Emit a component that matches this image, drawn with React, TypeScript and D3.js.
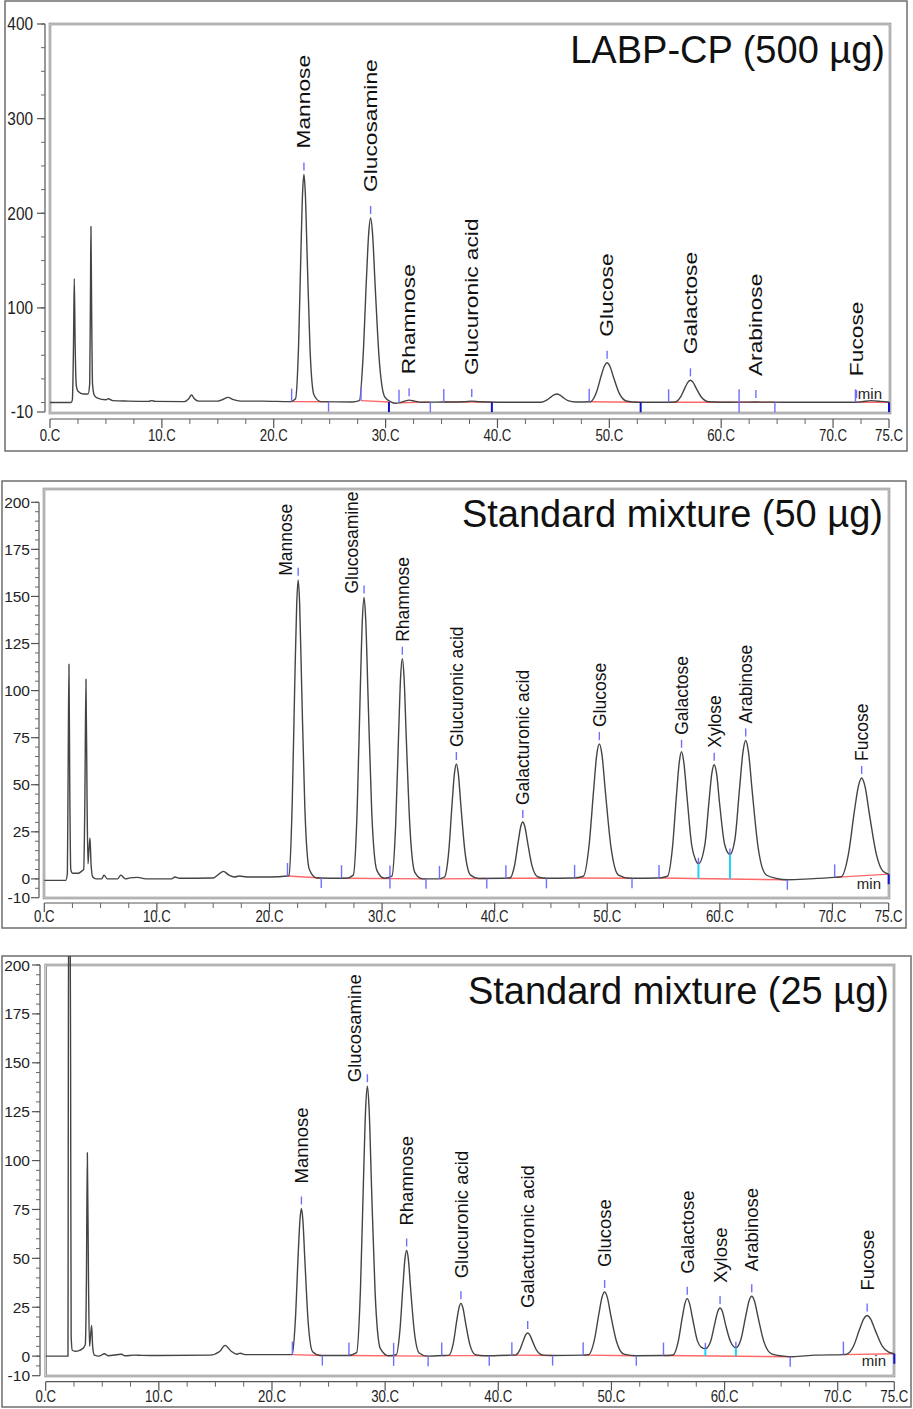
import React from 'react';
import * as d3 from 'd3';

const FONT = "Arial, 'Liberation Sans', Helvetica, sans-serif";

// ---------- X axis (retention time, min) ----------
const xMajorTicks = [0, 10, 20, 30, 40, 50, 60, 70, 75];
const xTickLabels = ['0.C', '10.C', '20.C', '30.C', '40.C', '50.C', '60.C', '70.C', '75.C'];

// ---------- Panel 1 : LABP-CP (500 µg) ----------
const labpTrace: number[][] = [
  [0, 0], [1.9, 0], [2.0, 3], [2.1, 60], [2.17, 131], [2.25, 60], [2.35, 18], [2.5, 12], [3.0, 9], [3.4, 9],
  [3.55, 20], [3.62, 120], [3.66, 186], [3.72, 100], [3.8, 20], [3.95, 8], [4.2, 5], [5.0, 3], [5.2, 4], [5.6, 2],
  [7, 1.5], [8.8, 1.2], [9.1, 2], [9.4, 1.2], [12.0, 1], [12.4, 4], [12.65, 8], [12.9, 4], [13.3, 1.5], [15.0, 1.5],
  [15.5, 3.5], [15.9, 5.5], [16.4, 3], [17, 1.5], [19, 1.5], [21.5, 1],
  [21.95, 4], [22.22, 60], [22.43, 159], [22.58, 222], [22.7, 241], [22.82, 222], [22.99, 154], [23.24, 58], [23.6, 8], [24.2, 1], [27.0, 0.5],
  [27.65, 2], [27.99, 49], [28.28, 129], [28.49, 179], [28.66, 195], [28.83, 179], [29.06, 125], [29.42, 47], [29.92, 6], [30.5, 0.5],
  [30.9, -0.8], [31.3, 0], [31.7, 1.5], [32.1, 2.5], [32.6, 1.5], [33.2, 0.3], [35, 0.5], [37.0, 0.8], [37.7, 1.5], [38.4, 0.8],
  [40, 0.3], [43.8, 0.3], [44.0, 0.5], [44.4, 2.5], [44.8, 6], [45.1, 8.3], [45.3, 9], [45.55, 8.2], [45.85, 5.5], [46.3, 2], [47, 0.5], [48.3, 0.8],
  [48.84, 10.5], [49.26, 27.7], [49.56, 38.6], [49.8, 42], [50.04, 38.6], [50.37, 26.9], [50.88, 10], [51.6, 1.3], [52.5, 0.3], [55.3, 0.3],
  [55.9, 0.6], [56.37, 5.9], [56.76, 15.5], [57.03, 21.6], [57.25, 23.5], [57.47, 21.6], [57.77, 15], [58.24, 5.6], [58.9, 0.8], [60, 0.3],
  [63, 0.5], [66, 0.3], [72.0, 0.3], [72.6, 1], [73.4, 2], [74.3, 1.2], [75, 0.3],
];
const labpPeakNames = ['Mannose', 'Glucosamine', 'Rhamnose', 'Glucuronic acid', 'Glucose', 'Galactose', 'Arabinose', 'Fucose'];
const labpPeakTimes = [22.7, 28.66, 32.1, 37.7, 49.8, 57.25, 63.1, 72.1];
const labpStarts = [21.6, 27.8, 31.2, 35.2, 48.2, 55.3, 72.0];
const labpEnds = [24.9, 34.0, 64.8];
const labpEndsDark = [30.3, 39.5, 52.8, 75];
const labpBoth = [61.6];
const labpDrops: number[] = [];
const labpSegments = [[21.6, 24.9], [27.8, 30.3], [31.2, 34.0], [35.2, 39.5], [48.2, 52.8], [55.3, 64.8], [72.0, 75]];
const labpYMajor = [400, 300, 200, 100, -10];
const labpYLabels = ['400', '300', '200', '100', '-10'];

// ---------- Panel 2 : Standard mixture (50 µg) ----------
const std50Trace: number[][] = [
  [0, -0.8], [1.9, -0.8], [2.05, 3], [2.12, 60], [2.19, 114], [2.26, 50], [2.35, 5], [2.5, 3], [3.0, 3], [3.3, 4],
  [3.5, 5], [3.6, 40], [3.7, 106], [3.8, 40], [3.88, 8], [3.96, 15], [4.06, 21.7], [4.15, 8], [4.3, 1], [4.6, 0],
  [5.1, 0], [5.3, 2], [5.6, 0], [6.5, 0], [6.8, 2], [7.2, 0], [7.6, 0.5], [8.3, 0.8], [9, 0], [11.3, 0], [11.6, 1], [12, 0.3],
  [15, 0.5], [15.5, 2.5], [15.9, 4], [16.4, 2], [16.9, 1], [17.3, 1.5], [18, 1], [20, 1], [21.6, 1.5],
  [21.73, 1.8], [22.02, 40], [22.25, 105], [22.42, 146], [22.55, 158.8], [22.68, 146], [22.86, 102], [23.14, 38], [23.54, 5], [24.2, 0.5], [26.8, 0.3],
  [27.45, 2], [27.79, 37], [28.06, 99], [28.25, 137.5], [28.4, 149.4], [28.55, 137.5], [28.76, 96], [29.08, 36], [29.54, 4.5], [30.2, 0.3],
  [30.88, 1.5], [31.21, 29], [31.47, 77], [31.65, 107.5], [31.8, 116.9], [31.95, 107.5], [32.15, 75], [32.47, 28], [32.91, 3.5], [33.6, 0], [35.0, 0],
  [35.55, 1], [35.93, 15], [36.22, 40], [36.43, 56], [36.6, 61], [36.77, 56], [37.0, 39], [37.36, 14.6], [37.86, 2], [38.6, 0.2], [40.8, 0.3],
  [41.38, 0.6], [41.78, 7.5], [42.1, 20], [42.32, 27.8], [42.5, 30.2], [42.68, 27.8], [42.93, 19.3], [43.31, 7.2], [43.85, 1], [44.6, 0.3], [47, 0.5],
  [47.88, 1.4], [48.39, 18], [48.79, 47], [49.07, 66], [49.3, 71.6], [49.53, 66], [49.84, 46], [50.33, 17], [51.0, 2], [52.0, 0.3], [54.5, 0.5],
  [55.35, 1.4], [55.8, 17], [56.15, 44.5], [56.4, 62], [56.6, 67.5], [56.8, 62], [57.08, 44], [57.5, 18], [57.85, 10], [58.1, 8],
  [58.67, 18], [59.03, 40.5], [59.29, 56], [59.5, 60.6], [59.71, 56], [59.99, 39.5], [60.44, 18], [60.9, 13],
  [61.34, 21], [61.76, 48.5], [62.06, 67.6], [62.3, 73.5], [62.54, 67.6], [62.87, 47], [63.38, 17.6], [64.1, 2.2], [65, 0.3], [66, -0.5], [68, 0], [70.2, 0.8],
  [70.78, 1.1], [71.43, 13.4], [71.94, 35.4], [72.31, 49.3], [72.6, 53.6], [72.89, 49.3], [73.29, 34.3], [73.91, 12.9], [74.5, 4], [75, 2.5],
];
const std50PeakNames = ['Mannose', 'Glucosamine', 'Rhamnose', 'Glucuronic acid', 'Galacturonic acid', 'Glucose', 'Galactose', 'Xylose', 'Arabinose', 'Fucose'];
const std50PeakTimes = [22.55, 28.4, 31.8, 36.6, 42.5, 49.3, 56.6, 59.5, 62.3, 72.6];
const std50Starts = [21.6, 26.4, 35.1, 41.0, 47.1, 54.6, 70.2];
const std50Ends = [24.6, 33.9, 39.3, 44.6, 52.2, 66.0];
const std50EndsDark = [75];
const std50Both = [30.7];
const std50Drops = [58.1, 60.9];
const std50Segments = [[21.6, 24.6], [26.4, 33.9], [35.1, 39.3], [41.0, 44.6], [47.1, 52.2], [54.6, 66.0], [70.2, 75]];

// ---------- Panel 3 : Standard mixture (25 µg) ----------
const std25Trace: number[][] = [
  [0, 0], [1.97, 0], [2.0, 150], [2.1, 320], [2.2, 150], [2.25, 10], [2.35, 3], [2.6, 2.5], [3.0, 3], [3.3, 4],
  [3.5, 6], [3.6, 40], [3.68, 104], [3.78, 40], [3.87, 5], [3.96, 10], [4.06, 15.7], [4.15, 5], [4.3, 0.5], [4.7, 0],
  [5.2, 1.2], [5.5, 0.2], [6.7, 1], [7, 0.2], [7.8, 0.5], [8.5, 0.4], [10, 0.3], [14.5, 0.5], [15.4, 2.5], [15.85, 5.5],
  [16.4, 2.5], [16.9, 1], [17.2, 1.5], [17.6, 0.8], [21.7, 0.8],
  [21.78, 0.9], [22.07, 19], [22.3, 50], [22.47, 69.5], [22.6, 75.5], [22.73, 69.5], [22.91, 48.5], [23.19, 18], [23.59, 2.3], [24.3, 0.3], [26.7, 0.3],
  [27.48, 1.8], [27.82, 34.5], [28.09, 91], [28.28, 127], [28.43, 138], [28.58, 127], [28.79, 88], [29.11, 33], [29.57, 4], [30.3, 0.2],
  [30.98, 0.7], [31.31, 13.5], [31.57, 35.6], [31.75, 49.7], [31.9, 54], [32.05, 49.7], [32.25, 34.6], [32.57, 13], [33.01, 1.6], [33.7, 0], [35.1, 0.3],
  [35.65, 0.5], [36.03, 6.75], [36.32, 17.8], [36.53, 24.8], [36.7, 27], [36.87, 24.8], [37.1, 17.3], [37.46, 6.5], [37.96, 0.8], [38.8, 0.2], [41.2, 0.5],
  [41.48, 0.5], [41.88, 2.95], [42.2, 7.8], [42.42, 10.9], [42.6, 11.8], [42.78, 10.9], [43.03, 7.55], [43.41, 2.8], [43.95, 0.5], [44.8, 0.3], [47.5, 0.5],
  [47.98, 0.7], [48.49, 8.2], [48.89, 21.6], [49.17, 30.2], [49.4, 32.8], [49.63, 30.2], [49.94, 21], [50.43, 7.9], [51.1, 1], [52.2, 0.2], [54.6, 0.3],
  [55.45, 0.6], [55.9, 7.4], [56.25, 19.4], [56.5, 27], [56.7, 29.4], [56.9, 27], [57.18, 19], [57.6, 7.8], [57.95, 4.5], [58.3, 3.8],
  [58.77, 7.6], [59.13, 16.5], [59.39, 22.7], [59.6, 24.6], [59.81, 22.7], [60.09, 16], [60.54, 7.2], [61.0, 4.3],
  [61.44, 8.5], [61.86, 20.2], [62.16, 28.2], [62.4, 30.6], [62.64, 28.2], [62.97, 19.6], [63.48, 7.3], [64.2, 1], [65.2, 0], [66, -0.3], [68, 0.5], [70.5, 0.8],
  [70.73, 0.9], [71.4, 5.2], [71.93, 13.7], [72.3, 19.1], [72.6, 20.8], [72.9, 19.1], [73.31, 13.3], [73.95, 5], [74.5, 2], [75, 1.2],
];
const std25PeakNames = std50PeakNames;
const std25PeakTimes = [22.6, 28.43, 31.9, 36.7, 42.6, 49.4, 56.7, 59.6, 62.4, 72.6];
const std25Starts = [21.8, 26.8, 35.0, 41.2, 47.5, 54.6, 70.5];
const std25Ends = [24.45, 33.8, 39.2, 44.8, 52.2, 65.8];
const std25EndsDark = [75];
const std25Both = [30.75];
const std25Drops = [58.3, 61.0];
const std25Segments = [[21.8, 24.45], [26.8, 33.8], [35.0, 39.2], [41.2, 44.8], [47.5, 52.2], [54.6, 65.8], [70.5, 75]];

const stdYMajor = [200, 175, 150, 125, 100, 75, 50, 25, 0, -10];
const stdYLabels = ['200', '175', '150', '125', '100', '75', '50', '25', '0', '-10'];

// ---------- helpers ----------
function valueAt(data: number[][], t: number): number {
  const i = d3.bisector((d: number[]) => d[0]).left(data, t);
  if (i <= 0) return data[0][1];
  if (i >= data.length) return data[data.length - 1][1];
  const a = data[i - 1], b = data[i];
  return a[1] + (b[1] - a[1]) * (t - a[0]) / (b[0] - a[0]);
}

// value of the trace at the foot of a peak (lowest nearby sample)
function footValue(data: number[][], t: number): number {
  const near = data.filter(d => Math.abs(d[0] - t) <= 0.25).map(d => d[1]);
  return Math.min(valueAt(data, t), ...near);
}

let ctx: CanvasRenderingContext2D | null = null;
function textWidth(s: string, size: number): number {
  if (!ctx) ctx = document.createElement('canvas').getContext('2d');
  if (!ctx) return s.length * size * 0.55;
  ctx.font = `${size}px ${FONT}`;
  return ctx.measureText(s).width;
}

type PanelProps = {
  id: string;
  frame: { x: number; y: number; w: number; h: number };
  plot: { l: number; t: number; r: number; b: number };
  xRange: [number, number];
  yDomain: [number, number];
  yRange: [number, number];
  yAxisX: number;
  xAxisY: number;
  yMajor: number[];
  yLabels: string[];
  yMinor: number[];
  yFont: number;
  yScaleX: number;
  yLabelRight: number;
  xLabelBaseline: number;
  title: string;
  titleRight: number;
  titleBaseline: number;
  labelFont: number;
  labelStretch: number;
  labelGap: number;
  minAbove: boolean;
  trace: number[][];
  names: string[];
  times: number[];
  starts: number[];
  ends: number[];
  endsDark: number[];
  both: number[];
  drops: number[];
  segments: number[][];
};

function Panel(p: PanelProps) {
  const x = d3.scaleLinear().domain([0, 75]).range(p.xRange);
  const y = d3.scaleLinear().domain(p.yDomain).range(p.yRange);
  const line = d3.line<number[]>().x(d => x(d[0])).y(d => y(d[1])).curve(d3.curveMonotoneX);
  const xMinor = d3.range(0, 75.001, 2.5).filter(v => xMajorTicks.indexOf(v) < 0);
  const clipId = `clip-${p.id}`;
  const light = '#6f6fff';
  const dark = '#1414c8';

  const segBase = (t: number) => {
    for (const s of p.segments) {
      if (t >= s[0] - 1e-6 && t <= s[1] + 1e-6) {
        const v0 = footValue(p.trace, s[0]);
        const v1 = footValue(p.trace, s[1]);
        return v0 + (v1 - v0) * (t - s[0]) / (s[1] - s[0]);
      }
    }
    return footValue(p.trace, t);
  };

  return (
    <g>
      <defs>
        <clipPath id={clipId}>
          <rect x={p.frame.x} y={p.frame.y} width={p.frame.w} height={p.frame.h} />
        </clipPath>
      </defs>
      {/* outer frame */}
      <rect x={p.frame.x} y={p.frame.y} width={p.frame.w} height={p.frame.h} fill="#fff" stroke="#6e6e6e" strokeWidth={1.5} />
      {/* plot box (double grey line) */}
      <rect x={p.plot.l} y={p.plot.t} width={p.plot.r - p.plot.l} height={p.plot.b - p.plot.t} fill="none" stroke="#8f8f8f" strokeWidth={2.6} />
      <rect x={p.plot.l} y={p.plot.t} width={p.plot.r - p.plot.l} height={p.plot.b - p.plot.t} fill="none" stroke="#e8e8e8" strokeWidth={0.8} />

      {/* y axis */}
      <line x1={p.yAxisX} x2={p.yAxisX} y1={y(p.yDomain[0])} y2={y(p.yDomain[1])} stroke="#555" strokeWidth={1.2} />
      {p.yMinor.map((v, i) => (
        <line key={'ym' + i} x1={p.yAxisX - 4} x2={p.yAxisX} y1={y(v)} y2={y(v)} stroke="#666" strokeWidth={1} />
      ))}
      {p.yMajor.map((v, i) => (
        <g key={'yM' + i}>
          <line x1={p.yAxisX - 8} x2={p.yAxisX} y1={y(v)} y2={y(v)} stroke="#555" strokeWidth={1.2} />
          <text transform={`translate(${p.yLabelRight},${y(v)}) scale(${p.yScaleX},1)`} dy="0.36em" textAnchor="end"
            fontFamily={FONT} fontSize={p.yFont} fill="#222">{p.yLabels[i]}</text>
        </g>
      ))}

      {/* x axis */}
      <line x1={p.xRange[0]} x2={p.xRange[1]} y1={p.xAxisY} y2={p.xAxisY} stroke="#555" strokeWidth={1.2} />
      {xMinor.map((v, i) => (
        <line key={'xm' + i} x1={x(v)} x2={x(v)} y1={p.xAxisY} y2={p.xAxisY + 5} stroke="#666" strokeWidth={1} />
      ))}
      {xMajorTicks.map((v, i) => (
        <g key={'xM' + i}>
          <line x1={x(v)} x2={x(v)} y1={p.xAxisY} y2={p.xAxisY + 9} stroke="#555" strokeWidth={1.2} />
          <text transform={`translate(${x(v)},${p.xLabelBaseline}) scale(0.8,1)`} textAnchor="middle"
            fontFamily={FONT} fontSize={16.5} fill="#222">{xTickLabels[i]}</text>
        </g>
      ))}

      {/* title */}
      <text x={p.titleRight} y={p.titleBaseline} textAnchor="end" fontFamily={FONT} fontSize={38} fill="#111">{p.title}</text>

      {/* integration baselines */}
      {p.segments.map((s, i) => (
        <line key={'seg' + i} x1={x(s[0])} x2={x(s[1])} y1={y(footValue(p.trace, s[0]))} y2={y(footValue(p.trace, s[1]))}
          stroke="#ff4d4d" strokeWidth={1.4} strokeOpacity={0.85} />
      ))}

      {/* trace */}
      <g clipPath={`url(#${clipId})`}>
        <path d={line(p.trace) || ''} fill="none" stroke="#444" strokeWidth={1.4} strokeLinejoin="round" />
      </g>

      {/* integration ticks */}
      {p.starts.map((t, i) => {
        const by = y(segBase(t));
        return <line key={'st' + i} x1={x(t)} x2={x(t)} y1={by - 13} y2={by} stroke={light} strokeWidth={1.4} />;
      })}
      {p.ends.map((t, i) => {
        const by = y(segBase(t));
        return <line key={'en' + i} x1={x(t)} x2={x(t)} y1={by} y2={by + 10} stroke={light} strokeWidth={1.4} />;
      })}
      {p.endsDark.map((t, i) => {
        const by = y(segBase(t));
        return <line key={'ed' + i} x1={x(t)} x2={x(t)} y1={by} y2={by + 10} stroke={dark} strokeWidth={2} />;
      })}
      {p.both.map((t, i) => {
        const by = y(segBase(t));
        return <line key={'bo' + i} x1={x(t)} x2={x(t)} y1={by - 13} y2={by + 10} stroke={light} strokeWidth={1.4} />;
      })}
      {p.drops.map((t, i) => {
        const by = y(segBase(t));
        const vy = y(valueAt(p.trace, t));
        return (
          <g key={'dr' + i}>
            <line x1={x(t)} x2={x(t)} y1={vy} y2={by} stroke="#22d0f5" strokeWidth={2} />
            <line x1={x(t)} x2={x(t)} y1={vy - 6} y2={vy} stroke={light} strokeWidth={1.4} />
          </g>
        );
      })}

      {/* "min" unit */}
      <text x={p.plot.r - 8} y={p.minAbove ? y(0) - 4 : y(0) + 10} textAnchor="end" fontFamily={FONT} fontSize={15} fill="#222">min</text>

      {/* peak labels */}
      {p.names.map((name, i) => {
        const t = p.times[i];
        const ax = x(t);
        const ay = y(valueAt(p.trace, t));
        const len = textWidth(name, p.labelFont) * p.labelStretch;
        let lx = ax;
        let lb = ay - p.labelGap;
        if (lb - len < p.plot.t + 3) {
          lx = ax - (0.36 * p.labelFont + 6);
          lb = ay - 4;
        }
        return (
          <g key={'lb' + i}>
            <line x1={ax} x2={ax} y1={ay - 12} y2={ay - 4} stroke={light} strokeWidth={1.4} />
            <text transform={`translate(${lx},${lb}) rotate(-90) scale(${p.labelStretch},1)`} dy="0.36em"
              textAnchor="start" fontFamily={FONT} fontSize={p.labelFont} fill="#111">{name}</text>
          </g>
        );
      })}
    </g>
  );
}

export default function App() {
  const panel1: PanelProps = {
    id: 'p1',
    frame: { x: 5, y: 1, w: 902, h: 450 },
    plot: { l: 50, t: 24, r: 890, b: 413 },
    xRange: [50, 889],
    yDomain: [-10, 400],
    yRange: [412, 24],
    yAxisX: 45,
    xAxisY: 419,
    yMajor: labpYMajor,
    yLabels: labpYLabels,
    yMinor: d3.range(0, 401, 25),
    yFont: 17.5,
    yScaleX: 0.88,
    yLabelRight: 33,
    xLabelBaseline: 441,
    title: 'LABP-CP (500 µg)',
    titleRight: 885,
    titleBaseline: 63,
    labelFont: 17.5,
    labelStretch: 1.3,
    labelGap: 26,
    minAbove: true,
    trace: labpTrace,
    names: labpPeakNames,
    times: labpPeakTimes,
    starts: labpStarts,
    ends: labpEnds,
    endsDark: labpEndsDark,
    both: labpBoth,
    drops: labpDrops,
    segments: labpSegments,
  };
  const panel2: PanelProps = {
    id: 'p2',
    frame: { x: 2, y: 481, w: 904, h: 447 },
    plot: { l: 44, t: 489, r: 889, b: 898 },
    xRange: [44.3, 888.7],
    yDomain: [-10, 200],
    yRange: [897.7, 502.3],
    yAxisX: 39,
    xAxisY: 903,
    yMajor: stdYMajor,
    yLabels: stdYLabels,
    yMinor: d3.range(-5, 201, 5),
    yFont: 15.5,
    yScaleX: 1,
    yLabelRight: 30,
    xLabelBaseline: 922,
    title: 'Standard mixture (50 µg)',
    titleRight: 883,
    titleBaseline: 527,
    labelFont: 17.5,
    labelStretch: 1,
    labelGap: 17,
    minAbove: false,
    trace: std50Trace,
    names: std50PeakNames,
    times: std50PeakTimes,
    starts: std50Starts,
    ends: std50Ends,
    endsDark: std50EndsDark,
    both: std50Both,
    drops: std50Drops,
    segments: std50Segments,
  };
  const panel3: PanelProps = {
    id: 'p3',
    frame: { x: 2, y: 956, w: 909, h: 451 },
    plot: { l: 45.7, t: 965, r: 894, b: 1376 },
    xRange: [45.7, 894.3],
    yDomain: [-10, 200],
    yRange: [1375.7, 965],
    yAxisX: 40,
    xAxisY: 1381.7,
    yMajor: stdYMajor,
    yLabels: stdYLabels,
    yMinor: d3.range(-5, 201, 5),
    yFont: 15.5,
    yScaleX: 1,
    yLabelRight: 30,
    xLabelBaseline: 1402,
    title: 'Standard mixture (25 µg)',
    titleRight: 889,
    titleBaseline: 1004,
    labelFont: 18.5,
    labelStretch: 1,
    labelGap: 25,
    minAbove: false,
    trace: std25Trace,
    names: std25PeakNames,
    times: std25PeakTimes,
    starts: std25Starts,
    ends: std25Ends,
    endsDark: std25EndsDark,
    both: std25Both,
    drops: std25Drops,
    segments: std25Segments,
  };
  return (
    <svg width={913} height={1409} viewBox="0 0 913 1409" style={{ position: 'absolute', left: 0, top: 0, background: '#fff' }}>
      <rect x={0} y={0} width={913} height={1409} fill="#fff" />
      <Panel {...panel1} />
      <Panel {...panel2} />
      <Panel {...panel3} />
    </svg>
  );
}
